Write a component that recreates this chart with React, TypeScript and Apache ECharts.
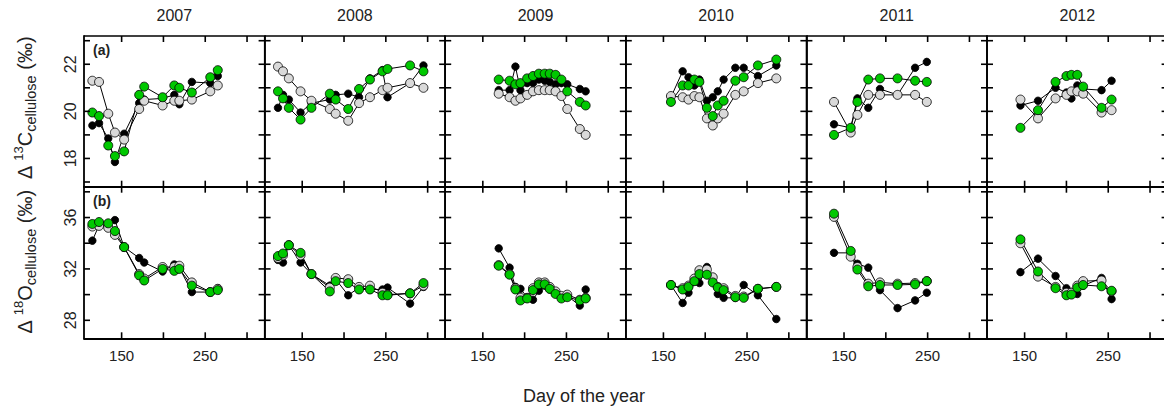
import React, { useEffect, useRef } from 'react';
import * as echarts from 'echarts';

// Sampling years (one column of panels each)
const years = ['2007', '2008', '2009', '2010', '2011', '2012'];

// Day of the year of each sampling, per year
const dayOfYear = [
  [115, 123, 134, 142, 153, 171, 177, 199, 213, 219, 234, 256, 265],
  [121, 127, 134, 148, 161, 183, 190, 205, 218, 231, 246, 252, 279, 295],
  [169, 182, 189, 195, 203, 210, 217, 224, 230, 237, 244, 251, 266, 273],
  [159, 173, 180, 187, 193, 202, 209, 215, 222, 236, 246, 263, 285],
  [138, 158, 166, 179, 193, 214, 235, 249],
  [145, 166, 187, 200, 206, 213, 220, 242, 254],
];

// Δ13C of cellulose (‰)
const c13Black = [
  [19.4, 19.5, 18.85, 17.85, 19.05, 20.35, 20.5, 20.55, 20.7, 20.3, 21.25, 21.2, 21.5],
  [20.15, 20.7, 20.5, 19.95, 20.35, 20.5, 20.7, 20.75, 20.6, 21.4, 21.75, 20.6, 21.2, 21.95],
  [20.9, 20.9, 21.9, 20.9, 21.2, 21.2, 21.35, 21.3, 21.25, 21.15, 21.2, 21.15, 20.95, 20.85],
  [20.6, 21.7, 21.45, 21.1, 21.35, 20.45, 20.6, 20.85, 21.35, 21.85, 21.85, 21.5, 21.95],
  [19.45, 19.3, 20.55, 20.15, 20.95, 20.7, 21.85, 22.1],
  [20.25, 20.45, 21.0, 20.8, 20.55, 21.1, 20.95, 20.9, 21.3],
];
const c13Gray = [
  [21.3, 21.25, 19.9, 19.1, 18.8, 20.1, 20.45, 20.25, 20.45, 20.45, 20.5, 20.85, 21.1],
  [21.9, 21.7, 21.4, 20.85, 20.45, 20.1, 19.9, 19.6, 20.35, 20.6, 20.9, 21.0, 21.2, 21.0],
  [20.75, 20.6, 20.45, 20.55, 20.7, 20.85, 20.9, 20.9, 20.9, 20.85, 20.65, 20.1, 19.25, 19.0],
  [20.65, 20.6, 20.5, 20.65, 20.6, 19.7, 19.4, 19.7, 19.9, 20.7, 20.85, 21.2, 21.4],
  [20.4, 19.1, 19.85, 20.7, 20.7, 20.7, 20.7, 20.4],
  [20.5, 19.7, 20.55, 20.7, 20.85, 20.85, 20.75, 19.95, 20.05],
];
const c13Green = [
  [19.95, 19.8, 18.55, 18.1, 18.3, 20.7, 21.05, 20.6, 21.1, 21.0, 20.8, 21.45, 21.75],
  [20.85, 20.55, 20.15, 19.65, 20.15, 20.75, 20.5, 20.1, 20.95, 21.35, 21.7, 21.8, 21.95, 21.7],
  [21.35, 21.3, 21.15, 21.2, 21.4, 21.5, 21.6, 21.6, 21.6, 21.55, 21.35, 20.85, 20.4, 20.25],
  [20.4, 21.1, 21.1, 21.35, 21.25, 20.15, 19.8, 20.25, 20.45, 21.3, 21.45, 21.95, 22.2],
  [19.0, 19.3, 20.4, 21.35, 21.4, 21.4, 21.3, 21.25],
  [19.3, 20.05, 21.25, 21.5, 21.55, 21.55, 21.05, 20.15, 20.5],
];

// Δ18O of cellulose (‰)
const o18Black = [
  [34.2, 35.4, 35.4, 35.8, 33.7, 32.85, 32.5, 31.8, 32.35, 32.1, 30.2, 30.2, 30.5],
  [32.7, 32.5, 33.85, 32.5, 31.6, 30.7, 31.2, 29.95, 30.55, 30.4, 30.4, 30.55, 29.3, 30.6],
  [33.6, 32.1, 30.6, 30.45, 29.8, 29.6, 30.3, 30.7, 30.4, 30.1, 29.75, 29.9, 29.15, 30.4],
  [30.75, 29.35, 30.15, 31.0, 30.9, 32.15, 31.0, 30.05, 29.75, 29.75, 30.75, 29.95, 28.1],
  [33.25, 33.25, 32.4, 32.1, 30.35, 28.95, 29.55, 30.15],
  [31.75, 32.8, 31.45, 30.5, 30.2, 30.05, 30.7, 31.3, 29.65],
];
const o18Gray = [
  [35.3, 35.35, 35.2, 34.65, 33.7, 31.6, 31.25, 32.15, 32.15, 32.25, 30.95, 30.2, 30.45],
  [32.85, 33.05, 33.85, 33.05, 31.6, 30.55, 31.3, 31.2, 30.6, 30.7, 30.15, 30.0, 30.1, 30.7],
  [32.3, 31.6, 30.5, 29.75, 29.75, 30.5, 30.95, 30.95, 30.6, 30.25, 29.9, 30.0, 29.6, 29.75],
  [30.75, 30.5, 30.7, 31.25, 31.9, 31.95, 31.35, 30.6, 30.5, 29.9, 29.85, 30.45, 30.6],
  [36.05, 32.95, 32.15, 30.85, 30.95, 30.85, 30.9, 31.05],
  [34.0, 31.4, 30.6, 30.15, 30.15, 30.7, 31.05, 31.1, 30.25],
];
const o18Green = [
  [35.5, 35.65, 35.55, 34.95, 33.7, 31.5, 31.1, 32.0, 31.85, 32.0, 30.7, 30.2, 30.35],
  [33.0, 33.2, 33.85, 33.25, 31.6, 30.25, 31.05, 30.9, 30.4, 30.4, 29.95, 29.95, 30.1, 30.9],
  [32.25, 31.55, 30.4, 29.55, 29.7, 30.35, 30.8, 30.8, 30.45, 30.05, 29.7, 29.8, 29.55, 29.7],
  [30.75, 30.4, 30.6, 31.05, 31.6, 31.55, 30.95, 30.55, 30.35, 29.8, 29.75, 30.45, 30.6],
  [36.3, 33.4, 31.95, 30.65, 30.75, 30.75, 30.8, 31.05],
  [34.3, 31.8, 30.5, 29.95, 30.0, 30.55, 30.75, 30.65, 30.3],
];

// Axis ticks and labels
const dayTicks = [150, 200, 250, 300];
const dayLabels = [150, 250];
const c13Ticks = [17, 18, 19, 20, 21, 22, 23];
const c13Labels = [18, 20, 22];
const o18Ticks = [28, 30, 32, 34, 36, 38];
const o18Labels = [28, 32, 36];

const FONT = '"Liberation Sans", Arial, Helvetica, sans-serif';
const PANEL_LEFT = 84;
const PANEL_W = 180.6;
const DAY_MIN = 105;
const DAY_MAX = 321;
const TICK_LEN = 6;

const rows = [
  { top: 36, height: 150.7, min: 16.8, max: 23.2, ticks: c13Ticks, labels: c13Labels,
    black: c13Black, gray: c13Gray, green: c13Green, tag: '(a)' },
  { top: 186.7, height: 151.6, min: 26.6, max: 38.4, ticks: o18Ticks, labels: o18Labels,
    black: o18Black, gray: o18Gray, green: o18Green, tag: '(b)' },
];

function buildOption() {
  const grid: any[] = [];
  const xAxis: any[] = [];
  const yAxis: any[] = [];
  const series: any[] = [];
  const graphic: any[] = [];

  const frameLine = (w: number) => ({ show: true, onZero: false, lineStyle: { color: '#000', width: w } });

  // Inward tick marks along one edge; (dx, dy) is the inward direction
  const tickMarks = (idx: number, data: number[][], dx: number, dy: number) => ({
    type: 'custom',
    xAxisIndex: idx,
    yAxisIndex: idx,
    data,
    clip: false,
    silent: true,
    z: 5,
    renderItem: (_params: any, api: any) => {
      const p = api.coord([api.value(0), api.value(1)]);
      return {
        type: 'line',
        shape: { x1: p[0], y1: p[1], x2: p[0] + dx * TICK_LEN, y2: p[1] + dy * TICK_LEN },
        style: { stroke: '#000', lineWidth: 1.6, fill: null },
      };
    },
  });

  rows.forEach((row, r) => {
    years.forEach((year, c) => {
      const idx = r * 6 + c;
      const left = PANEL_LEFT + c * PANEL_W;
      grid.push({ left, top: row.top, width: PANEL_W, height: row.height, containLabel: false, outerBoundsMode: 'none' });

      xAxis.push({
        gridIndex: idx, type: 'value', min: DAY_MIN, max: DAY_MAX, position: 'bottom',
        axisLine: frameLine(1.8), axisTick: { show: false }, splitLine: { show: false },
        axisLabel: {
          show: r === 1, customValues: dayLabels, fontSize: 15, color: '#222',
          margin: 10, fontFamily: FONT,
        },
      });
      yAxis.push({
        gridIndex: idx, type: 'value', min: row.min, max: row.max, position: 'left',
        axisLine: frameLine(1.8), axisTick: { show: false }, splitLine: { show: false },
        axisLabel: {
          show: c === 0, customValues: row.labels, rotate: 90, fontSize: 16,
          color: '#222', margin: 6, fontFamily: FONT,
        },
      });

      // right and top edges of the frame
      const edge = (x1: number, y1: number, x2: number, y2: number) => ({
        type: 'line', xAxisIndex: idx, yAxisIndex: idx,
        data: [[x1, y1], [x2, y2]], symbol: 'none', clip: false, silent: true, z: 1,
        lineStyle: { color: '#000', width: 1.4 },
      });
      series.push(edge(DAY_MIN, row.max, DAY_MAX, row.max));
      series.push(edge(DAY_MAX, row.min, DAY_MAX, row.max));

      // tick marks on all four edges
      series.push(tickMarks(idx, dayTicks.map((d) => [d, row.min]), 0, -1));
      series.push(tickMarks(idx, dayTicks.map((d) => [d, row.max]), 0, 1));
      series.push(tickMarks(idx, row.ticks.map((v) => [DAY_MIN, v]), 1, 0));
      series.push(tickMarks(idx, row.ticks.map((v) => [DAY_MAX, v]), -1, 0));

      const days = dayOfYear[c];
      const groups = [
        { vals: row.black[c], fill: '#000000', size: 7.5 },
        { vals: row.gray[c], fill: '#d9d9d9', size: 9 },
        { vals: row.green[c], fill: '#00c800', size: 9 },
      ];
      groups.forEach((grp) => {
        series.push({
          type: 'line',
          xAxisIndex: idx,
          yAxisIndex: idx,
          data: days.map((d, i) => [d, grp.vals[i]]),
          symbol: 'circle',
          symbolSize: grp.size,
          showSymbol: true,
          itemStyle: { color: grp.fill, borderColor: '#000', borderWidth: 0.8 },
          lineStyle: { color: '#000', width: 1 },
          silent: true,
          z: 2,
        });
      });

      if (r === 0) {
        graphic.push({
          type: 'text', x: left + PANEL_W / 2, y: 15,
          style: { text: year, fontSize: 16, fontFamily: FONT, fill: '#222', align: 'center', verticalAlign: 'middle' },
        });
      }
    });

    graphic.push({
      type: 'text', x: 93, y: row.top + 14,
      style: { text: row.tag, fontSize: 14, fontWeight: 'bold', fontFamily: FONT, fill: '#222', align: 'left', verticalAlign: 'middle' },
    });
  });

  const rich = {
    b: { fontSize: 20, lineHeight: 26, fontFamily: FONT, fill: '#222' },
    sup: { fontSize: 13, lineHeight: 13, verticalAlign: 'top', fontFamily: FONT, fill: '#222' },
    sub: { fontSize: 14.5, lineHeight: 14.5, verticalAlign: 'bottom', fontFamily: FONT, fill: '#222' },
  };
  const yTitles = [
    { text: '{b|Δ }{sup|13}{b|C}{sub|cellulose}{b| (‰)}', y: 108 },
    { text: '{b|Δ }{sup|18}{b|O}{sub|cellulose}{b| (‰)}', y: 262 },
  ];
  yTitles.forEach((t) => {
    graphic.push({
      type: 'text', x: 25, y: t.y, rotation: Math.PI / 2,
      style: { text: t.text, rich, align: 'center', verticalAlign: 'middle', fontFamily: FONT },
    });
  });

  graphic.push({
    type: 'text', x: 584, y: 396,
    style: { text: 'Day of the year', fontSize: 18, fontFamily: FONT, fill: '#222', align: 'center', verticalAlign: 'middle' },
  });

  return {
    animation: false,
    backgroundColor: '#fff',
    grid, xAxis, yAxis, series, graphic,
  };
}

export default function App() {
  const ref = useRef<HTMLDivElement>(null);
  useEffect(() => {
    if (!ref.current) return;
    const chart = echarts.init(ref.current, undefined, { renderer: 'svg' });
    chart.setOption(buildOption() as any);
    return () => chart.dispose();
  }, []);
  return (
    <div
      ref={ref}
      style={{ position: 'absolute', left: 0, top: 0, width: 1164, height: 412, background: '#fff' }}
    />
  );
}
